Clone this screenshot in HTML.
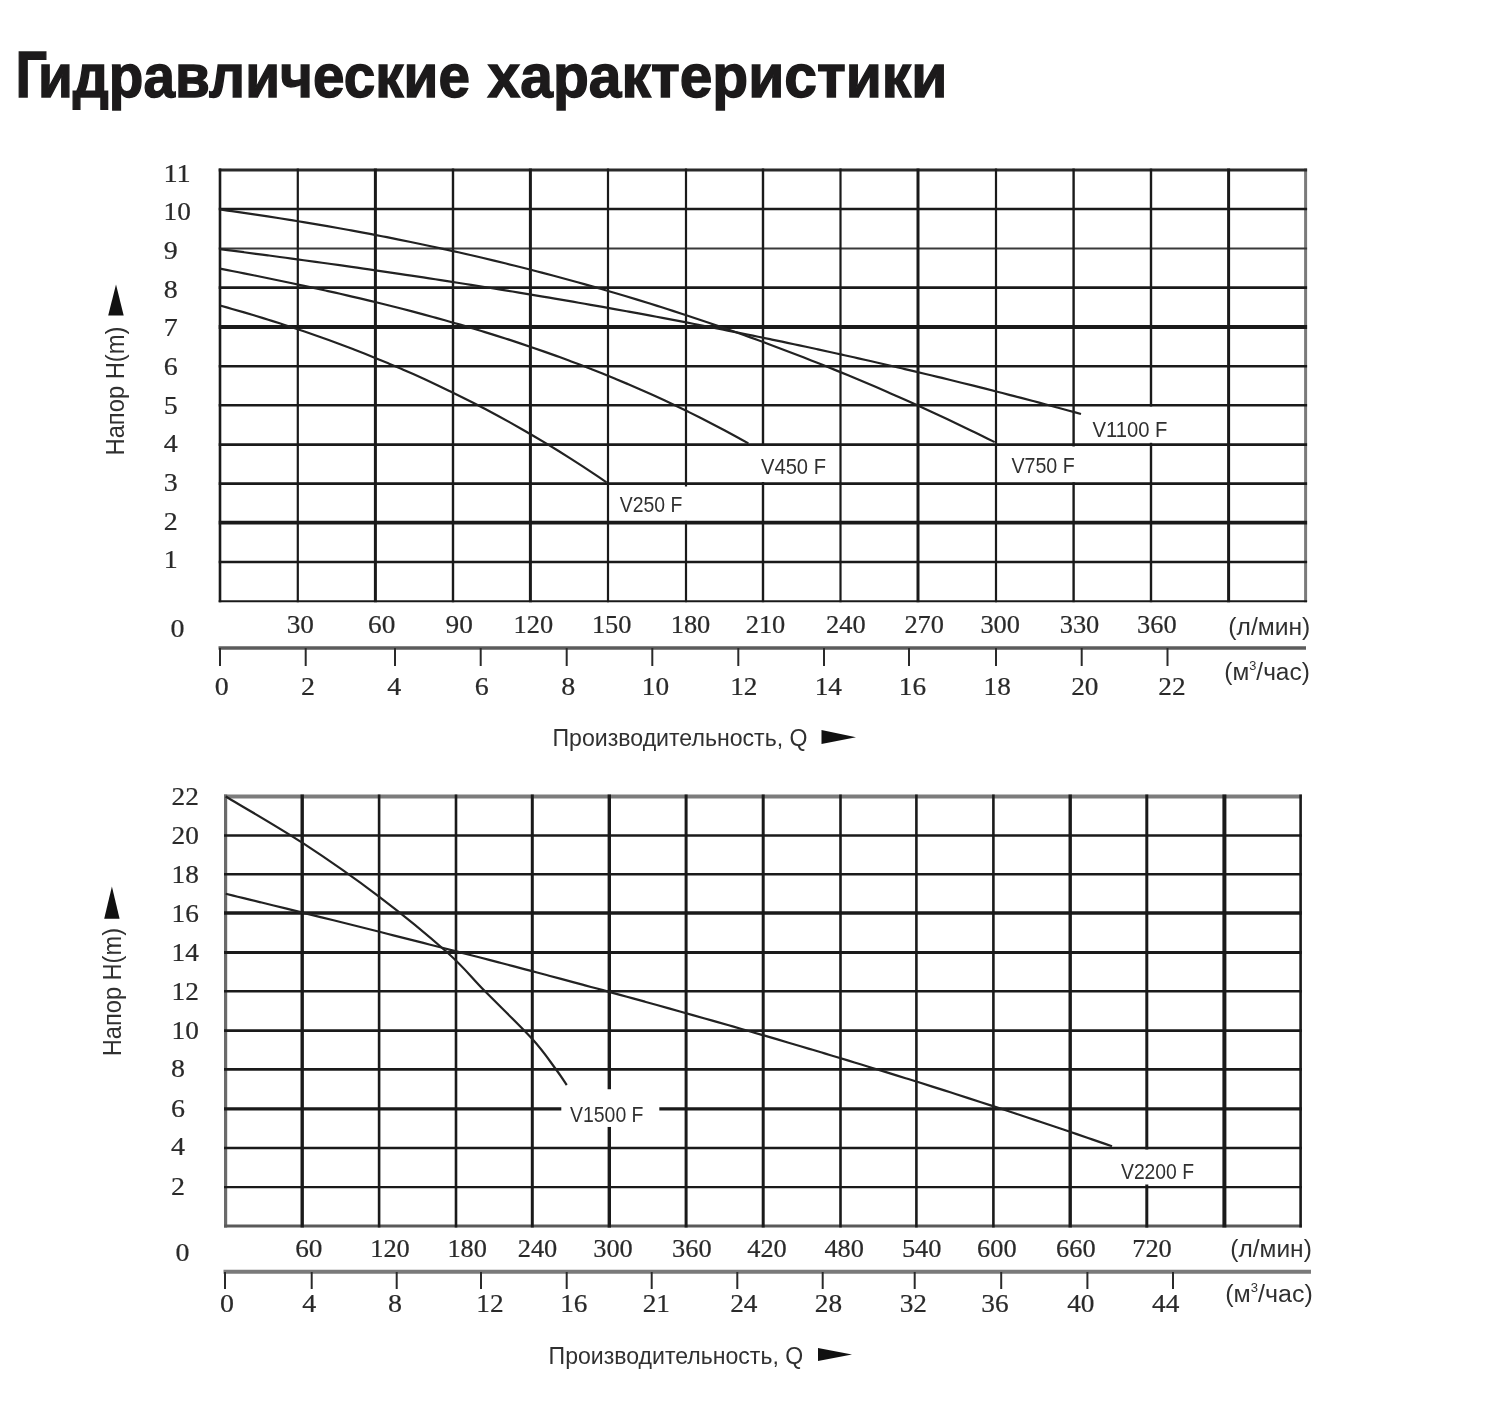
<!DOCTYPE html>
<html lang="ru"><head><meta charset="utf-8"><title>Гидравлические характеристики</title>
<style>
html,body{margin:0;padding:0;background:#fff;width:1500px;height:1408px;overflow:hidden}
svg{display:block}
.t{font-family:"Liberation Sans",sans-serif;font-weight:bold;font-size:62px;fill:#1c1a1b;stroke:#1c1a1b;stroke-width:1.4px}
.n{font-family:"Liberation Serif",serif;font-size:24.5px;fill:#2a2a2a;stroke:#2a2a2a;stroke-width:0.2px}
.l{font-family:"Liberation Sans",sans-serif;fill:#303030}
</style></head><body>
<svg width="1500" height="1408" viewBox="0 0 1500 1408">
<rect width="1500" height="1408" fill="#fff"/>
<text y="96.6" class="t"><tspan x="15.6" font-size="65" textLength="31.5" lengthAdjust="spacingAndGlyphs">Г</tspan><tspan x="38" textLength="432" lengthAdjust="spacingAndGlyphs">идравлические</tspan> <tspan x="487.6" textLength="459.8" lengthAdjust="spacingAndGlyphs">характеристики</tspan></text>
<line x1="1305.6" y1="168.6" x2="1305.6" y2="602.2" stroke="#7a7a7a" stroke-width="3"/>
<line x1="218.7" y1="248.5" x2="1307.1" y2="248.5" stroke="#3a3a3a" stroke-width="2"/>
<line x1="218.7" y1="170" x2="1307.1" y2="170" stroke="#2a2a2a" stroke-width="2.8"/>
<line x1="220" y1="168.6" x2="220" y2="602.2" stroke="#1a1a1a" stroke-width="2.6"/>
<line x1="297.8" y1="168.6" x2="297.8" y2="602.2" stroke="#1a1a1a" stroke-width="2.2"/>
<line x1="375.4" y1="168.6" x2="375.4" y2="602.2" stroke="#1a1a1a" stroke-width="3"/>
<line x1="453" y1="168.6" x2="453" y2="602.2" stroke="#1a1a1a" stroke-width="2.4"/>
<line x1="530.4" y1="168.6" x2="530.4" y2="602.2" stroke="#1a1a1a" stroke-width="3"/>
<line x1="608" y1="168.6" x2="608" y2="602.2" stroke="#1a1a1a" stroke-width="2.2"/>
<line x1="686" y1="168.6" x2="686" y2="486.5" stroke="#1a1a1a" stroke-width="2.2"/>
<line x1="686" y1="520.8" x2="686" y2="602.2" stroke="#1a1a1a" stroke-width="2.2"/>
<line x1="763" y1="168.6" x2="763" y2="446" stroke="#1a1a1a" stroke-width="2.4"/>
<line x1="763" y1="482" x2="763" y2="602.2" stroke="#1a1a1a" stroke-width="2.4"/>
<line x1="840.5" y1="168.6" x2="840.5" y2="602.2" stroke="#1a1a1a" stroke-width="2.2"/>
<line x1="918" y1="168.6" x2="918" y2="602.2" stroke="#1a1a1a" stroke-width="3"/>
<line x1="996" y1="168.6" x2="996" y2="602.2" stroke="#1a1a1a" stroke-width="2.2"/>
<line x1="1073.6" y1="168.6" x2="1073.6" y2="446.5" stroke="#1a1a1a" stroke-width="2.4"/>
<line x1="1073.6" y1="482.3" x2="1073.6" y2="602.2" stroke="#1a1a1a" stroke-width="2.4"/>
<line x1="1151" y1="168.6" x2="1151" y2="406.5" stroke="#1a1a1a" stroke-width="2.4"/>
<line x1="1151" y1="442.8" x2="1151" y2="602.2" stroke="#1a1a1a" stroke-width="2.4"/>
<line x1="1228.6" y1="168.6" x2="1228.6" y2="602.2" stroke="#1a1a1a" stroke-width="3"/>
<line x1="218.7" y1="209" x2="1307.1" y2="209" stroke="#1a1a1a" stroke-width="2.4"/>
<line x1="218.7" y1="287.6" x2="1307.1" y2="287.6" stroke="#1a1a1a" stroke-width="2.8"/>
<line x1="218.7" y1="327" x2="1307.1" y2="327" stroke="#1a1a1a" stroke-width="3.8"/>
<line x1="218.7" y1="366.2" x2="1307.1" y2="366.2" stroke="#1a1a1a" stroke-width="2.6"/>
<line x1="218.7" y1="405.2" x2="1307.1" y2="405.2" stroke="#1a1a1a" stroke-width="2.6"/>
<line x1="218.7" y1="444.6" x2="1307.1" y2="444.6" stroke="#1a1a1a" stroke-width="2.6"/>
<line x1="218.7" y1="483.6" x2="1307.1" y2="483.6" stroke="#1a1a1a" stroke-width="2.6"/>
<line x1="218.7" y1="522.6" x2="1307.1" y2="522.6" stroke="#1a1a1a" stroke-width="3.6"/>
<line x1="218.7" y1="562" x2="1307.1" y2="562" stroke="#1a1a1a" stroke-width="2.6"/>
<line x1="218.7" y1="601.2" x2="1307.1" y2="601.2" stroke="#1a1a1a" stroke-width="2"/>
<path d="M220,209.52 C221.99,209.79 227.95,210.61 231.92,211.17 C235.89,211.73 239.86,212.29 243.84,212.86 C247.81,213.44 251.78,214.02 255.76,214.61 C259.73,215.2 263.7,215.8 267.67,216.41 C271.65,217.01 275.62,217.63 279.59,218.25 C283.57,218.87 287.54,219.5 291.51,220.14 C295.48,220.79 299.46,221.43 303.43,222.09 C307.4,222.75 311.37,223.41 315.35,224.09 C319.32,224.76 323.29,225.45 327.27,226.14 C331.24,226.83 335.21,227.53 339.18,228.24 C343.16,228.95 347.13,229.67 351.1,230.4 C355.08,231.12 359.05,231.86 363.02,232.61 C366.99,233.35 370.97,234.11 374.94,234.87 C378.91,235.63 382.89,236.41 386.86,237.19 C390.83,237.97 394.8,238.76 398.78,239.56 C402.75,240.36 406.72,241.17 410.7,241.99 C414.67,242.81 418.64,243.64 422.61,244.48 C426.59,245.32 430.56,246.17 434.53,247.03 C438.51,247.89 442.48,248.75 446.45,249.63 C450.42,250.51 454.4,251.39 458.37,252.29 C462.34,253.19 466.31,254.1 470.29,255.01 C474.26,255.93 478.23,256.86 482.21,257.79 C486.18,258.73 490.15,259.68 494.12,260.63 C498.1,261.59 502.07,262.56 506.04,263.53 C510.02,264.51 513.99,265.5 517.96,266.5 C521.93,267.5 525.91,268.5 529.88,269.52 C533.85,270.54 537.83,271.57 541.8,272.61 C545.77,273.65 549.74,274.7 553.72,275.76 C557.69,276.82 561.66,277.89 565.64,278.98 C569.61,280.06 573.58,281.15 577.55,282.26 C581.53,283.36 585.5,284.47 589.47,285.6 C593.45,286.72 597.42,287.86 601.39,289.01 C605.36,290.16 609.34,291.31 613.31,292.48 C617.28,293.65 621.25,294.83 625.23,296.03 C629.2,297.22 633.17,298.42 637.15,299.64 C641.12,300.85 645.09,302.08 649.06,303.31 C653.04,304.55 657.01,305.8 660.98,307.06 C664.96,308.32 668.93,309.59 672.9,310.88 C676.87,312.16 680.85,313.45 684.82,314.76 C688.79,316.07 692.77,317.38 696.74,318.71 C700.71,320.04 704.68,321.39 708.66,322.74 C712.63,324.09 716.6,325.46 720.58,326.84 C724.55,328.22 728.52,329.61 732.49,331.01 C736.47,332.41 740.44,333.82 744.41,335.25 C748.39,336.67 752.36,338.11 756.33,339.56 C760.3,341.01 764.28,342.48 768.25,343.95 C772.22,345.43 776.19,346.91 780.17,348.41 C784.14,349.91 788.11,351.43 792.09,352.95 C796.06,354.48 800.03,356.02 804,357.57 C807.98,359.12 811.95,360.68 815.92,362.25 C819.9,363.83 823.87,365.42 827.84,367.02 C831.81,368.62 835.79,370.24 839.76,371.86 C843.73,373.49 847.71,375.13 851.68,376.78 C855.65,378.44 859.62,380.1 863.6,381.78 C867.57,383.46 871.54,385.16 875.52,386.86 C879.49,388.57 883.46,390.29 887.43,392.02 C891.41,393.75 895.38,395.5 899.35,397.26 C903.33,399.02 907.3,400.79 911.27,402.58 C915.24,404.36 919.22,406.16 923.19,407.98 C927.16,409.79 931.13,411.62 935.11,413.46 C939.08,415.3 943.05,417.15 947.03,419.02 C951,420.89 954.97,422.77 958.94,424.67 C962.92,426.57 966.89,428.48 970.86,430.4 C974.84,432.33 978.81,434.26 982.78,436.22 C986.75,438.17 992.71,441.13 994.7,442.12" fill="none" stroke="#222" stroke-width="2.2" stroke-linejoin="round"/>
<path d="M220,249.13 C221.99,249.38 227.97,250.15 231.96,250.67 C235.94,251.18 239.93,251.7 243.92,252.22 C247.9,252.74 251.89,253.26 255.88,253.79 C259.86,254.31 263.85,254.84 267.83,255.37 C271.82,255.9 275.81,256.44 279.79,256.97 C283.78,257.51 287.76,258.05 291.75,258.59 C295.74,259.13 299.72,259.67 303.71,260.22 C307.69,260.76 311.68,261.31 315.67,261.86 C319.65,262.41 323.64,262.97 327.62,263.53 C331.61,264.08 335.6,264.64 339.58,265.21 C343.57,265.77 347.56,266.33 351.54,266.9 C355.53,267.47 359.51,268.04 363.5,268.62 C367.49,269.19 371.47,269.77 375.46,270.35 C379.44,270.93 383.43,271.51 387.42,272.09 C391.4,272.68 395.39,273.27 399.38,273.86 C403.36,274.45 407.35,275.05 411.33,275.65 C415.32,276.25 419.31,276.85 423.29,277.45 C427.28,278.06 431.26,278.66 435.25,279.27 C439.24,279.88 443.22,280.5 447.21,281.12 C451.19,281.73 455.18,282.35 459.17,282.98 C463.15,283.6 467.14,284.23 471.12,284.86 C475.11,285.49 479.1,286.12 483.08,286.76 C487.07,287.4 491.06,288.04 495.04,288.68 C499.03,289.33 503.01,289.97 507,290.63 C510.99,291.28 514.97,291.93 518.96,292.59 C522.94,293.25 526.93,293.91 530.92,294.57 C534.9,295.24 538.89,295.91 542.88,296.58 C546.86,297.25 550.85,297.93 554.83,298.61 C558.82,299.29 562.81,299.97 566.79,300.66 C570.78,301.35 574.76,302.04 578.75,302.73 C582.74,303.43 586.72,304.13 590.71,304.83 C594.69,305.53 598.68,306.24 602.67,306.95 C606.65,307.66 610.64,308.37 614.62,309.09 C618.61,309.81 622.6,310.53 626.58,311.26 C630.57,311.98 634.56,312.71 638.54,313.45 C642.53,314.18 646.51,314.92 650.5,315.66 C654.49,316.41 658.47,317.15 662.46,317.9 C666.44,318.65 670.43,319.41 674.42,320.17 C678.4,320.92 682.39,321.69 686.38,322.45 C690.36,323.22 694.35,323.99 698.33,324.77 C702.32,325.54 706.31,326.32 710.29,327.11 C714.28,327.89 718.26,328.68 722.25,329.47 C726.24,330.27 730.22,331.06 734.21,331.87 C738.19,332.67 742.18,333.47 746.17,334.29 C750.15,335.1 754.14,335.91 758.12,336.73 C762.11,337.55 766.1,338.37 770.08,339.2 C774.07,340.03 778.06,340.87 782.04,341.7 C786.03,342.54 790.01,343.38 794,344.23 C797.99,345.08 801.97,345.93 805.96,346.79 C809.94,347.64 813.93,348.51 817.92,349.37 C821.9,350.24 825.89,351.11 829.88,351.98 C833.86,352.86 837.85,353.74 841.83,354.63 C845.82,355.51 849.81,356.4 853.79,357.3 C857.78,358.19 861.76,359.09 865.75,360 C869.74,360.9 873.72,361.81 877.71,362.73 C881.69,363.64 885.68,364.56 889.67,365.49 C893.65,366.41 897.64,367.34 901.62,368.28 C905.61,369.21 909.6,370.16 913.58,371.1 C917.57,372.05 921.56,373 925.54,373.95 C929.53,374.91 933.51,375.87 937.5,376.84 C941.49,377.8 945.47,378.77 949.46,379.75 C953.44,380.73 957.43,381.71 961.42,382.7 C965.4,383.69 969.39,384.68 973.38,385.68 C977.36,386.68 981.35,387.68 985.33,388.69 C989.32,389.7 993.31,390.71 997.29,391.73 C1001.28,392.75 1005.26,393.78 1009.25,394.81 C1013.24,395.84 1017.22,396.88 1021.21,397.92 C1025.19,398.96 1029.18,400.01 1033.17,401.06 C1037.15,402.12 1041.14,403.18 1045.12,404.24 C1049.11,405.31 1053.1,406.38 1057.08,407.45 C1061.07,408.53 1065.06,409.61 1069.04,410.7 C1073.03,411.79 1079.01,413.44 1081,413.98" fill="none" stroke="#222" stroke-width="2.2" stroke-linejoin="round"/>
<path d="M220,268.61 C222,269.01 228.01,270.19 232.01,270.98 C236.01,271.77 240.02,272.57 244.02,273.37 C248.02,274.17 252.02,274.97 256.03,275.79 C260.03,276.6 264.03,277.41 268.04,278.24 C272.04,279.06 276.04,279.89 280.05,280.72 C284.05,281.56 288.05,282.4 292.05,283.24 C296.06,284.09 300.06,284.95 304.06,285.81 C308.07,286.67 312.07,287.54 316.07,288.42 C320.08,289.3 324.08,290.19 328.08,291.09 C332.08,291.98 336.09,292.89 340.09,293.8 C344.09,294.72 348.1,295.64 352.1,296.57 C356.1,297.51 360.11,298.45 364.11,299.41 C368.11,300.36 372.12,301.33 376.12,302.3 C380.12,303.28 384.12,304.27 388.13,305.27 C392.13,306.27 396.13,307.28 400.14,308.3 C404.14,309.33 408.14,310.36 412.15,311.41 C416.15,312.46 420.15,313.53 424.15,314.6 C428.16,315.68 432.16,316.77 436.16,317.87 C440.17,318.98 444.17,320.1 448.17,321.23 C452.18,322.36 456.18,323.51 460.18,324.68 C464.18,325.84 468.19,327.02 472.19,328.21 C476.19,329.41 480.2,330.62 484.2,331.85 C488.2,333.07 492.21,334.32 496.21,335.58 C500.21,336.84 504.22,338.12 508.22,339.42 C512.22,340.71 516.22,342.03 520.23,343.36 C524.23,344.7 528.23,346.05 532.24,347.42 C536.24,348.79 540.24,350.18 544.25,351.59 C548.25,352.99 552.25,354.42 556.25,355.87 C560.26,357.32 564.26,358.79 568.26,360.28 C572.27,361.77 576.27,363.28 580.27,364.81 C584.28,366.34 588.28,367.9 592.28,369.47 C596.28,371.05 600.29,372.65 604.29,374.27 C608.29,375.89 612.3,377.53 616.3,379.19 C620.3,380.86 624.31,382.55 628.31,384.26 C632.31,385.98 636.32,387.71 640.32,389.47 C644.32,391.23 648.32,393.02 652.33,394.83 C656.33,396.64 660.33,398.48 664.34,400.34 C668.34,402.2 672.34,404.08 676.35,406 C680.35,407.91 684.35,409.85 688.35,411.81 C692.36,413.78 696.36,415.77 700.36,417.79 C704.37,419.81 708.37,421.86 712.37,423.93 C716.38,426.01 720.38,428.11 724.38,430.24 C728.38,432.38 732.39,434.54 736.39,436.73 C740.39,438.91 746.4,442.27 748.4,443.38" fill="none" stroke="#222" stroke-width="2.2" stroke-linejoin="round"/>
<path d="M220,305.55 C222.01,306.12 228.05,307.79 232.08,308.94 C236.1,310.08 240.13,311.24 244.16,312.42 C248.18,313.6 252.21,314.8 256.23,316.02 C260.26,317.23 264.29,318.47 268.31,319.72 C272.34,320.98 276.36,322.25 280.39,323.54 C284.42,324.84 288.44,326.15 292.47,327.48 C296.49,328.82 300.52,330.17 304.55,331.54 C308.57,332.92 312.6,334.31 316.62,335.73 C320.65,337.15 324.68,338.58 328.7,340.04 C332.73,341.5 336.76,342.98 340.78,344.49 C344.81,345.99 348.83,347.52 352.86,349.07 C356.89,350.62 360.91,352.19 364.94,353.79 C368.96,355.38 372.99,357 377.02,358.65 C381.04,360.29 385.07,361.96 389.09,363.65 C393.12,365.34 397.15,367.06 401.17,368.8 C405.2,370.55 409.22,372.31 413.25,374.11 C417.28,375.9 421.3,377.72 425.33,379.57 C429.35,381.41 433.38,383.28 437.41,385.18 C441.43,387.08 445.46,389.01 449.48,390.96 C453.51,392.92 457.54,394.9 461.56,396.91 C465.59,398.92 469.61,400.95 473.64,403.02 C477.67,405.08 481.69,407.18 485.72,409.3 C489.74,411.43 493.77,413.58 497.8,415.76 C501.82,417.94 505.85,420.15 509.88,422.4 C513.9,424.64 517.93,426.91 521.95,429.21 C525.98,431.52 530.01,433.85 534.03,436.22 C538.06,438.58 542.08,440.98 546.11,443.41 C550.14,445.84 554.16,448.3 558.19,450.79 C562.21,453.28 566.24,455.81 570.27,458.37 C574.29,460.93 578.32,463.52 582.34,466.14 C586.37,468.77 590.4,471.43 594.42,474.12 C598.45,476.81 604.49,480.94 606.5,482.3" fill="none" stroke="#222" stroke-width="2.2" stroke-linejoin="round"/>
<text class="l" x="619.8" y="511.8" font-size="22" textLength="62.5" lengthAdjust="spacingAndGlyphs">V250 F</text>
<text class="l" x="761" y="473.5" font-size="22" textLength="65" lengthAdjust="spacingAndGlyphs">V450 F</text>
<text class="l" x="1011.4" y="473" font-size="22" textLength="63.3" lengthAdjust="spacingAndGlyphs">V750 F</text>
<text class="l" x="1092.4" y="436.5" font-size="22" textLength="75" lengthAdjust="spacingAndGlyphs">V1100 F</text>
<text class="n" x="163.5" y="182.2" text-anchor="start" textLength="27.3" lengthAdjust="spacingAndGlyphs">11</text>
<text class="n" x="163.5" y="220.2" text-anchor="start" textLength="27.3" lengthAdjust="spacingAndGlyphs">10</text>
<text class="n" x="163.8" y="258.7" text-anchor="start" textLength="14" lengthAdjust="spacingAndGlyphs">9</text>
<text class="n" x="163.8" y="297.5" text-anchor="start" textLength="14" lengthAdjust="spacingAndGlyphs">8</text>
<text class="n" x="163.8" y="336.2" text-anchor="start" textLength="14" lengthAdjust="spacingAndGlyphs">7</text>
<text class="n" x="163.8" y="375.2" text-anchor="start" textLength="14" lengthAdjust="spacingAndGlyphs">6</text>
<text class="n" x="163.8" y="414.2" text-anchor="start" textLength="14" lengthAdjust="spacingAndGlyphs">5</text>
<text class="n" x="163.8" y="452.2" text-anchor="start" textLength="14" lengthAdjust="spacingAndGlyphs">4</text>
<text class="n" x="163.8" y="491.2" text-anchor="start" textLength="14" lengthAdjust="spacingAndGlyphs">3</text>
<text class="n" x="163.8" y="530.2" text-anchor="start" textLength="14" lengthAdjust="spacingAndGlyphs">2</text>
<text class="n" x="163.8" y="568.2" text-anchor="start" textLength="14" lengthAdjust="spacingAndGlyphs">1</text>
<text class="n" x="170.5" y="637" text-anchor="start" textLength="14" lengthAdjust="spacingAndGlyphs">0</text>
<text class="n" x="300.3" y="633" text-anchor="middle" textLength="27.3" lengthAdjust="spacingAndGlyphs">30</text>
<text class="n" x="381.7" y="633" text-anchor="middle" textLength="27.3" lengthAdjust="spacingAndGlyphs">60</text>
<text class="n" x="459.2" y="633" text-anchor="middle" textLength="27.3" lengthAdjust="spacingAndGlyphs">90</text>
<text class="n" x="533.3" y="633" text-anchor="middle" textLength="39.6" lengthAdjust="spacingAndGlyphs">120</text>
<text class="n" x="611.7" y="633" text-anchor="middle" textLength="39.6" lengthAdjust="spacingAndGlyphs">150</text>
<text class="n" x="690.5" y="633" text-anchor="middle" textLength="39.6" lengthAdjust="spacingAndGlyphs">180</text>
<text class="n" x="765.5" y="633" text-anchor="middle" textLength="39.6" lengthAdjust="spacingAndGlyphs">210</text>
<text class="n" x="845.8" y="633" text-anchor="middle" textLength="39.6" lengthAdjust="spacingAndGlyphs">240</text>
<text class="n" x="924.2" y="633" text-anchor="middle" textLength="39.6" lengthAdjust="spacingAndGlyphs">270</text>
<text class="n" x="1000.2" y="633" text-anchor="middle" textLength="39.6" lengthAdjust="spacingAndGlyphs">300</text>
<text class="n" x="1079.5" y="633" text-anchor="middle" textLength="39.6" lengthAdjust="spacingAndGlyphs">330</text>
<text class="n" x="1156.8" y="633" text-anchor="middle" textLength="39.6" lengthAdjust="spacingAndGlyphs">360</text>
<line x1="218.5" y1="648" x2="1306" y2="648" stroke="#5c5c5c" stroke-width="3.4"/>
<line x1="220" y1="648" x2="220" y2="666" stroke="#2a2a2a" stroke-width="2"/>
<line x1="305.7" y1="648" x2="305.7" y2="666" stroke="#2a2a2a" stroke-width="2"/>
<line x1="395" y1="648" x2="395" y2="666" stroke="#2a2a2a" stroke-width="2"/>
<line x1="480.7" y1="648" x2="480.7" y2="666" stroke="#2a2a2a" stroke-width="2"/>
<line x1="566.7" y1="648" x2="566.7" y2="666" stroke="#2a2a2a" stroke-width="2"/>
<line x1="652.3" y1="648" x2="652.3" y2="666" stroke="#2a2a2a" stroke-width="2"/>
<line x1="738.3" y1="648" x2="738.3" y2="666" stroke="#2a2a2a" stroke-width="2"/>
<line x1="824" y1="648" x2="824" y2="666" stroke="#2a2a2a" stroke-width="2"/>
<line x1="909" y1="648" x2="909" y2="666" stroke="#2a2a2a" stroke-width="2"/>
<line x1="996" y1="648" x2="996" y2="666" stroke="#2a2a2a" stroke-width="2"/>
<line x1="1081.7" y1="648" x2="1081.7" y2="666" stroke="#2a2a2a" stroke-width="2"/>
<line x1="1167.5" y1="648" x2="1167.5" y2="666" stroke="#2a2a2a" stroke-width="2"/>
<text class="n" x="221.7" y="695" text-anchor="middle" textLength="14" lengthAdjust="spacingAndGlyphs">0</text>
<text class="n" x="307.9" y="695" text-anchor="middle" textLength="14" lengthAdjust="spacingAndGlyphs">2</text>
<text class="n" x="394.3" y="695" text-anchor="middle" textLength="14" lengthAdjust="spacingAndGlyphs">4</text>
<text class="n" x="481.7" y="695" text-anchor="middle" textLength="14" lengthAdjust="spacingAndGlyphs">6</text>
<text class="n" x="568.3" y="695" text-anchor="middle" textLength="14" lengthAdjust="spacingAndGlyphs">8</text>
<text class="n" x="655.5" y="695" text-anchor="middle" textLength="27.3" lengthAdjust="spacingAndGlyphs">10</text>
<text class="n" x="743.8" y="695" text-anchor="middle" textLength="27.3" lengthAdjust="spacingAndGlyphs">12</text>
<text class="n" x="828.3" y="695" text-anchor="middle" textLength="27.3" lengthAdjust="spacingAndGlyphs">14</text>
<text class="n" x="912.5" y="695" text-anchor="middle" textLength="27.3" lengthAdjust="spacingAndGlyphs">16</text>
<text class="n" x="997.2" y="695" text-anchor="middle" textLength="27.3" lengthAdjust="spacingAndGlyphs">18</text>
<text class="n" x="1084.8" y="695" text-anchor="middle" textLength="27.3" lengthAdjust="spacingAndGlyphs">20</text>
<text class="n" x="1172" y="695" text-anchor="middle" textLength="27.3" lengthAdjust="spacingAndGlyphs">22</text>
<text class="l" x="1228.3" y="635" font-size="23" textLength="82" lengthAdjust="spacingAndGlyphs">(л/мин)</text>
<text class="l" x="1224.3" y="679.5" font-size="23" textLength="85.5" lengthAdjust="spacingAndGlyphs">(м<tspan font-size="12" dy="-10">3</tspan><tspan dy="10">/час)</tspan></text>
<text class="l" x="552.5" y="746" font-size="24" textLength="255" lengthAdjust="spacingAndGlyphs">Производительность, Q</text>
<polygon points="821.5,730 856,737.3 821.5,744" fill="#111"/>
<text class="l" font-size="25" transform="translate(124,455.5) rotate(-90)" textLength="128.9" lengthAdjust="spacingAndGlyphs">Напор H(m)</text>
<polygon points="108.2,315.4 116,284.4 123.7,315.4" fill="#111"/>
<line x1="224" y1="796.5" x2="1301.9" y2="796.5" stroke="#7c7c7c" stroke-width="4"/>
<line x1="225.6" y1="794.5" x2="225.6" y2="1227.6" stroke="#6a6a6a" stroke-width="3.2"/>
<line x1="224" y1="1226" x2="1301.9" y2="1226" stroke="#5a5a5a" stroke-width="3.2"/>
<line x1="302.2" y1="794.5" x2="302.2" y2="1227.6" stroke="#1a1a1a" stroke-width="3.4"/>
<line x1="379.1" y1="794.5" x2="379.1" y2="1227.6" stroke="#1a1a1a" stroke-width="2.6"/>
<line x1="456" y1="794.5" x2="456" y2="1227.6" stroke="#1a1a1a" stroke-width="2.6"/>
<line x1="532.3" y1="794.5" x2="532.3" y2="1227.6" stroke="#1a1a1a" stroke-width="3"/>
<line x1="609.3" y1="794.5" x2="609.3" y2="1089.5" stroke="#1a1a1a" stroke-width="3.4"/>
<line x1="609.3" y1="1126.8" x2="609.3" y2="1227.6" stroke="#1a1a1a" stroke-width="3.4"/>
<line x1="686.1" y1="794.5" x2="686.1" y2="1227.6" stroke="#1a1a1a" stroke-width="3"/>
<line x1="763.2" y1="794.5" x2="763.2" y2="1227.6" stroke="#1a1a1a" stroke-width="3"/>
<line x1="840.5" y1="794.5" x2="840.5" y2="1227.6" stroke="#1a1a1a" stroke-width="2.6"/>
<line x1="916.4" y1="794.5" x2="916.4" y2="1227.6" stroke="#1a1a1a" stroke-width="2.6"/>
<line x1="993.4" y1="794.5" x2="993.4" y2="1227.6" stroke="#1a1a1a" stroke-width="2.6"/>
<line x1="1070.2" y1="794.5" x2="1070.2" y2="1227.6" stroke="#1a1a1a" stroke-width="3.4"/>
<line x1="1146.8" y1="794.5" x2="1146.8" y2="1149.5" stroke="#1a1a1a" stroke-width="3"/>
<line x1="1146.8" y1="1184.5" x2="1146.8" y2="1227.6" stroke="#1a1a1a" stroke-width="3"/>
<line x1="1224.4" y1="794.5" x2="1224.4" y2="1227.6" stroke="#1a1a1a" stroke-width="4"/>
<line x1="1300.6" y1="794.5" x2="1300.6" y2="1227.6" stroke="#1a1a1a" stroke-width="2.6"/>
<line x1="224" y1="835.5" x2="1301.9" y2="835.5" stroke="#1a1a1a" stroke-width="2.6"/>
<line x1="224" y1="874.2" x2="1301.9" y2="874.2" stroke="#1a1a1a" stroke-width="2.6"/>
<line x1="224" y1="913" x2="1301.9" y2="913" stroke="#1a1a1a" stroke-width="3.6"/>
<line x1="224" y1="952.5" x2="1301.9" y2="952.5" stroke="#1a1a1a" stroke-width="3"/>
<line x1="224" y1="991.2" x2="1301.9" y2="991.2" stroke="#1a1a1a" stroke-width="2.6"/>
<line x1="224" y1="1030.6" x2="1301.9" y2="1030.6" stroke="#1a1a1a" stroke-width="2.6"/>
<line x1="224" y1="1069.4" x2="1301.9" y2="1069.4" stroke="#1a1a1a" stroke-width="2.6"/>
<line x1="224" y1="1108.8" x2="1301.9" y2="1108.8" stroke="#1a1a1a" stroke-width="3.2"/>
<line x1="224" y1="1148" x2="1301.9" y2="1148" stroke="#1a1a1a" stroke-width="2.6"/>
<line x1="224" y1="1187.2" x2="1301.9" y2="1187.2" stroke="#1a1a1a" stroke-width="2.2"/>
<rect x="561.3" y="1089.5" width="98" height="37.3" fill="#fff"/>
<path d="M225.7,796.5 C238.45,804.2 276.65,826.02 302.2,842.7 C327.75,859.38 354.77,878.25 379,896.6 C403.23,914.95 430.05,937.13 447.6,952.8 C465.15,968.47 470.22,976.27 484.3,990.6 C498.38,1004.93 520.2,1025.73 532.1,1038.8 C544,1051.87 549.92,1061.3 555.7,1069 C561.48,1076.7 564.95,1082.33 566.8,1085" fill="none" stroke="#222" stroke-width="2.2" stroke-linejoin="round"/>
<path d="M225.7,893.78 C227.7,894.27 233.68,895.73 237.68,896.7 C241.67,897.67 245.66,898.65 249.65,899.62 C253.65,900.6 257.64,901.57 261.63,902.55 C265.62,903.53 269.62,904.51 273.61,905.49 C277.6,906.47 281.59,907.45 285.59,908.43 C289.58,909.41 293.57,910.4 297.56,911.38 C301.55,912.37 305.55,913.35 309.54,914.34 C313.53,915.33 317.52,916.32 321.52,917.31 C325.51,918.3 329.5,919.29 333.49,920.29 C337.49,921.28 341.48,922.28 345.47,923.27 C349.46,924.27 353.45,925.27 357.45,926.27 C361.44,927.27 365.43,928.27 369.42,929.27 C373.42,930.28 377.41,931.28 381.4,932.29 C385.39,933.29 389.39,934.3 393.38,935.31 C397.37,936.32 401.36,937.33 405.36,938.35 C409.35,939.36 413.34,940.38 417.33,941.39 C421.32,942.41 425.32,943.43 429.31,944.45 C433.3,945.47 437.29,946.49 441.29,947.52 C445.28,948.54 449.27,949.57 453.26,950.6 C457.26,951.63 461.25,952.66 465.24,953.69 C469.23,954.72 473.23,955.76 477.22,956.79 C481.21,957.83 485.2,958.87 489.19,959.91 C493.19,960.95 497.18,961.99 501.17,963.04 C505.16,964.08 509.16,965.13 513.15,966.18 C517.14,967.23 521.13,968.28 525.13,969.34 C529.12,970.39 533.11,971.45 537.1,972.5 C541.1,973.56 545.09,974.62 549.08,975.69 C553.07,976.75 557.06,977.82 561.06,978.88 C565.05,979.95 569.04,981.02 573.03,982.1 C577.03,983.17 581.02,984.24 585.01,985.32 C589,986.4 593,987.48 596.99,988.56 C600.98,989.65 604.97,990.73 608.96,991.82 C612.96,992.91 616.95,994 620.94,995.09 C624.93,996.19 628.93,997.28 632.92,998.38 C636.91,999.48 640.9,1000.58 644.9,1001.68 C648.89,1002.79 652.88,1003.9 656.87,1005 C660.87,1006.11 664.86,1007.23 668.85,1008.34 C672.84,1009.46 676.83,1010.58 680.83,1011.7 C684.82,1012.82 688.81,1013.94 692.8,1015.07 C696.8,1016.2 700.79,1017.33 704.78,1018.46 C708.77,1019.59 712.77,1020.73 716.76,1021.87 C720.75,1023 724.74,1024.15 728.74,1025.29 C732.73,1026.44 736.72,1027.58 740.71,1028.74 C744.7,1029.89 748.7,1031.04 752.69,1032.2 C756.68,1033.36 760.67,1034.52 764.67,1035.68 C768.66,1036.85 772.65,1038.01 776.64,1039.18 C780.64,1040.35 784.63,1041.53 788.62,1042.7 C792.61,1043.88 796.6,1045.06 800.6,1046.24 C804.59,1047.43 808.58,1048.62 812.57,1049.81 C816.57,1051 820.56,1052.19 824.55,1053.39 C828.54,1054.59 832.54,1055.79 836.53,1056.99 C840.52,1058.19 844.51,1059.4 848.51,1060.61 C852.5,1061.83 856.49,1063.04 860.48,1064.26 C864.47,1065.48 868.47,1066.7 872.46,1067.93 C876.45,1069.15 880.44,1070.38 884.44,1071.61 C888.43,1072.85 892.42,1074.09 896.41,1075.33 C900.41,1076.57 904.4,1077.81 908.39,1079.06 C912.38,1080.31 916.38,1081.56 920.37,1082.82 C924.36,1084.07 928.35,1085.33 932.34,1086.6 C936.34,1087.86 940.33,1089.13 944.32,1090.4 C948.31,1091.67 952.31,1092.95 956.3,1094.22 C960.29,1095.5 964.28,1096.79 968.28,1098.08 C972.27,1099.36 976.26,1100.65 980.25,1101.95 C984.25,1103.25 988.24,1104.55 992.23,1105.85 C996.22,1107.15 1000.21,1108.46 1004.21,1109.77 C1008.2,1111.09 1012.19,1112.4 1016.18,1113.72 C1020.18,1115.04 1024.17,1116.37 1028.16,1117.7 C1032.15,1119.03 1036.15,1120.36 1040.14,1121.7 C1044.13,1123.04 1048.12,1124.38 1052.11,1125.72 C1056.11,1127.07 1060.1,1128.42 1064.09,1129.78 C1068.08,1131.13 1072.08,1132.49 1076.07,1133.86 C1080.06,1135.22 1084.05,1136.59 1088.05,1137.96 C1092.04,1139.34 1096.03,1140.71 1100.02,1142.1 C1104.02,1143.48 1110,1145.56 1112,1146.26" fill="none" stroke="#222" stroke-width="2.2" stroke-linejoin="round"/>
<text class="l" x="570" y="1122" font-size="22" textLength="73.5" lengthAdjust="spacingAndGlyphs">V1500 F</text>
<text class="l" x="1121" y="1179" font-size="22" textLength="73" lengthAdjust="spacingAndGlyphs">V2200 F</text>
<text class="n" x="171.5" y="805.2" text-anchor="start" textLength="27.3" lengthAdjust="spacingAndGlyphs">22</text>
<text class="n" x="171.5" y="844.2" text-anchor="start" textLength="27.3" lengthAdjust="spacingAndGlyphs">20</text>
<text class="n" x="171.5" y="882.7" text-anchor="start" textLength="27.3" lengthAdjust="spacingAndGlyphs">18</text>
<text class="n" x="171.5" y="921.7" text-anchor="start" textLength="27.3" lengthAdjust="spacingAndGlyphs">16</text>
<text class="n" x="171.5" y="960.7" text-anchor="start" textLength="27.3" lengthAdjust="spacingAndGlyphs">14</text>
<text class="n" x="171.5" y="1000.2" text-anchor="start" textLength="27.3" lengthAdjust="spacingAndGlyphs">12</text>
<text class="n" x="171.5" y="1038.5" text-anchor="start" textLength="27.3" lengthAdjust="spacingAndGlyphs">10</text>
<text class="n" x="171" y="1077" text-anchor="start" textLength="14" lengthAdjust="spacingAndGlyphs">8</text>
<text class="n" x="171" y="1116.6" text-anchor="start" textLength="14" lengthAdjust="spacingAndGlyphs">6</text>
<text class="n" x="171" y="1155.4" text-anchor="start" textLength="14" lengthAdjust="spacingAndGlyphs">4</text>
<text class="n" x="171" y="1195" text-anchor="start" textLength="14" lengthAdjust="spacingAndGlyphs">2</text>
<text class="n" x="175.5" y="1261" text-anchor="start" textLength="14" lengthAdjust="spacingAndGlyphs">0</text>
<text class="n" x="308.8" y="1257" text-anchor="middle" textLength="27.3" lengthAdjust="spacingAndGlyphs">60</text>
<text class="n" x="390" y="1257" text-anchor="middle" textLength="39.6" lengthAdjust="spacingAndGlyphs">120</text>
<text class="n" x="467.2" y="1257" text-anchor="middle" textLength="39.6" lengthAdjust="spacingAndGlyphs">180</text>
<text class="n" x="537.5" y="1257" text-anchor="middle" textLength="39.6" lengthAdjust="spacingAndGlyphs">240</text>
<text class="n" x="613" y="1257" text-anchor="middle" textLength="39.6" lengthAdjust="spacingAndGlyphs">300</text>
<text class="n" x="691.8" y="1257" text-anchor="middle" textLength="39.6" lengthAdjust="spacingAndGlyphs">360</text>
<text class="n" x="767" y="1257" text-anchor="middle" textLength="39.6" lengthAdjust="spacingAndGlyphs">420</text>
<text class="n" x="844.2" y="1257" text-anchor="middle" textLength="39.6" lengthAdjust="spacingAndGlyphs">480</text>
<text class="n" x="921.7" y="1257" text-anchor="middle" textLength="39.6" lengthAdjust="spacingAndGlyphs">540</text>
<text class="n" x="996.8" y="1257" text-anchor="middle" textLength="39.6" lengthAdjust="spacingAndGlyphs">600</text>
<text class="n" x="1075.8" y="1257" text-anchor="middle" textLength="39.6" lengthAdjust="spacingAndGlyphs">660</text>
<text class="n" x="1152" y="1257" text-anchor="middle" textLength="39.6" lengthAdjust="spacingAndGlyphs">720</text>
<line x1="223.5" y1="1271.7" x2="1311" y2="1271.7" stroke="#7a7a7a" stroke-width="4"/>
<line x1="225" y1="1272" x2="225" y2="1289" stroke="#2a2a2a" stroke-width="2"/>
<line x1="311.7" y1="1272" x2="311.7" y2="1289" stroke="#2a2a2a" stroke-width="2"/>
<line x1="396.7" y1="1272" x2="396.7" y2="1289" stroke="#2a2a2a" stroke-width="2"/>
<line x1="481" y1="1272" x2="481" y2="1289" stroke="#2a2a2a" stroke-width="2"/>
<line x1="566.7" y1="1272" x2="566.7" y2="1289" stroke="#2a2a2a" stroke-width="2"/>
<line x1="651.7" y1="1272" x2="651.7" y2="1289" stroke="#2a2a2a" stroke-width="2"/>
<line x1="737.3" y1="1272" x2="737.3" y2="1289" stroke="#2a2a2a" stroke-width="2"/>
<line x1="822.7" y1="1272" x2="822.7" y2="1289" stroke="#2a2a2a" stroke-width="2"/>
<line x1="914.7" y1="1272" x2="914.7" y2="1289" stroke="#2a2a2a" stroke-width="2"/>
<line x1="1001.2" y1="1272" x2="1001.2" y2="1289" stroke="#2a2a2a" stroke-width="2"/>
<line x1="1087.4" y1="1272" x2="1087.4" y2="1289" stroke="#2a2a2a" stroke-width="2"/>
<line x1="1173" y1="1272" x2="1173" y2="1289" stroke="#2a2a2a" stroke-width="2"/>
<text class="n" x="227" y="1312" text-anchor="middle" textLength="14" lengthAdjust="spacingAndGlyphs">0</text>
<text class="n" x="309.2" y="1312" text-anchor="middle" textLength="14" lengthAdjust="spacingAndGlyphs">4</text>
<text class="n" x="395" y="1312" text-anchor="middle" textLength="14" lengthAdjust="spacingAndGlyphs">8</text>
<text class="n" x="490" y="1312" text-anchor="middle" textLength="27.3" lengthAdjust="spacingAndGlyphs">12</text>
<text class="n" x="573.8" y="1312" text-anchor="middle" textLength="27.3" lengthAdjust="spacingAndGlyphs">16</text>
<text class="n" x="656.3" y="1312" text-anchor="middle" textLength="27.3" lengthAdjust="spacingAndGlyphs">21</text>
<text class="n" x="743.8" y="1312" text-anchor="middle" textLength="27.3" lengthAdjust="spacingAndGlyphs">24</text>
<text class="n" x="828.5" y="1312" text-anchor="middle" textLength="27.3" lengthAdjust="spacingAndGlyphs">28</text>
<text class="n" x="913.3" y="1312" text-anchor="middle" textLength="27.3" lengthAdjust="spacingAndGlyphs">32</text>
<text class="n" x="995" y="1312" text-anchor="middle" textLength="27.3" lengthAdjust="spacingAndGlyphs">36</text>
<text class="n" x="1080.8" y="1312" text-anchor="middle" textLength="27.3" lengthAdjust="spacingAndGlyphs">40</text>
<text class="n" x="1165.7" y="1312" text-anchor="middle" textLength="27.3" lengthAdjust="spacingAndGlyphs">44</text>
<text class="l" x="1230.3" y="1257" font-size="23" textLength="81.5" lengthAdjust="spacingAndGlyphs">(л/мин)</text>
<text class="l" x="1225.3" y="1301.5" font-size="23" textLength="87.5" lengthAdjust="spacingAndGlyphs">(м<tspan font-size="12" dy="-10">3</tspan><tspan dy="10">/час)</tspan></text>
<text class="l" x="548.6" y="1364" font-size="24" textLength="254.6" lengthAdjust="spacingAndGlyphs">Производительность, Q</text>
<polygon points="818,1348 852,1354.5 818,1361" fill="#111"/>
<text class="l" font-size="25" transform="translate(120.7,1056.2) rotate(-90)" textLength="128.2" lengthAdjust="spacingAndGlyphs">Напор H(m)</text>
<polygon points="104.2,918.8 111.9,886.5 119.6,918.8" fill="#111"/>
</svg>
</body></html>
